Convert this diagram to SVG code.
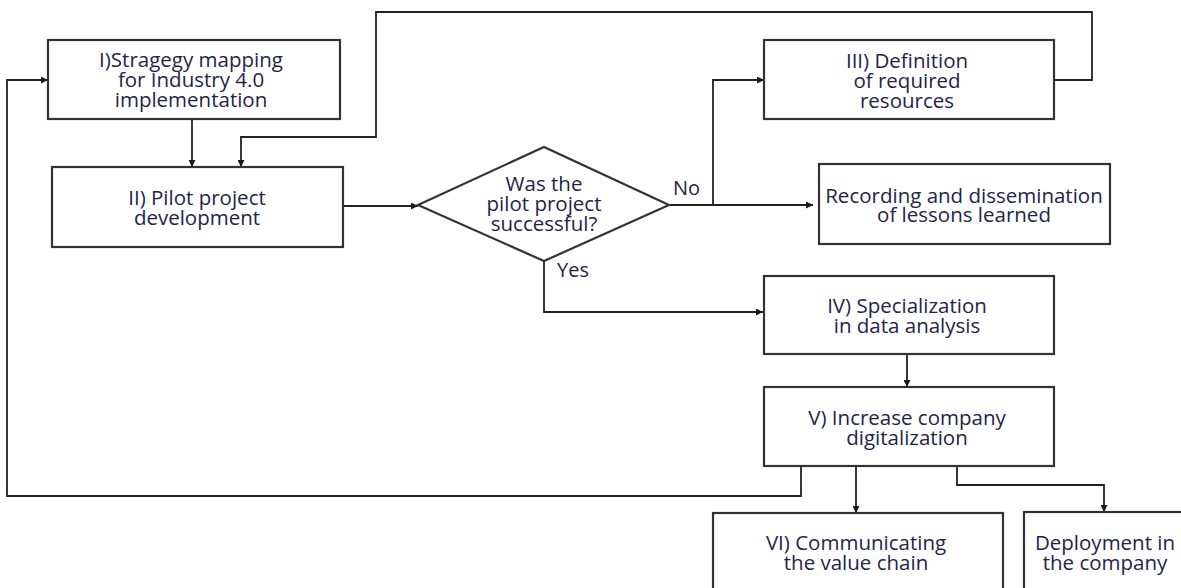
<svg xmlns="http://www.w3.org/2000/svg" width="1181" height="588" viewBox="0 0 1181 588">
<defs>
<marker id="arr" viewBox="0 0 10 10" refX="10" refY="5" markerWidth="9" markerHeight="7" markerUnits="userSpaceOnUse" orient="auto">
<path d="M0,0 L10,5 L0,10 z" fill="#1a1a1a"/>
</marker>
<style>
.box{fill:#fff;stroke:#333;stroke-width:2.2}
.t{font-family:"Open Sans","Noto Sans","DejaVu Sans",sans-serif;font-size:20.5px;fill:#24244a;text-anchor:middle}
.lbl{font-family:"Open Sans","Noto Sans","DejaVu Sans",sans-serif;font-size:20px;fill:#24244a}
.c{fill:none;stroke:#222;stroke-width:1.8}
</style>
</defs>
<rect width="1181" height="588" fill="#fff"/>
<g id="connectors">
<path class="c" d="M192,119 V167" marker-end="url(#arr)"/>
<path class="c" d="M1054,80 H1092 V12 H376 V137 H241 V167" marker-end="url(#arr)"/>
<path class="c" d="M343,206 H418" marker-end="url(#arr)"/>
<path class="c" d="M669,205 H813" marker-end="url(#arr)"/>
<path class="c" d="M713,205 V80 H764" marker-end="url(#arr)"/>
<path class="c" d="M544,261 V312 H763" marker-end="url(#arr)"/>
<path class="c" d="M907,354 V387" marker-end="url(#arr)"/>
<path class="c" d="M801,466 V496 H7 V80 H48" marker-end="url(#arr)"/>
<path class="c" d="M856,466 V513" marker-end="url(#arr)"/>
<path class="c" d="M957,466 V485 H1104 V512" marker-end="url(#arr)"/>
</g>
<g id="n1">
<rect class="box" x="48" y="40" width="292" height="79"/>
<text class="t" x="191" y="67">I)Stragegy mapping</text>
<text class="t" x="191" y="87">for Industry 4.0</text>
<text class="t" x="191" y="107">implementation</text>
</g>
<g id="n2">
<rect class="box" x="52" y="167" width="291" height="80"/>
<text class="t" x="197" y="205">II) Pilot project</text>
<text class="t" x="197" y="225">development</text>
</g>
<g id="decision">
<polygon class="box" points="418,205 544,147 669,205 544,261"/>
<text class="t" x="544" y="191">Was the</text>
<text class="t" x="544" y="211">pilot project</text>
<text class="t" x="544" y="231">successful?</text>
<text class="lbl" x="673" y="195">No</text>
<text class="lbl" x="557" y="277">Yes</text>
</g>
<g id="n3">
<rect class="box" x="764" y="40" width="290" height="79"/>
<text class="t" x="907" y="68">III) Definition</text>
<text class="t" x="907" y="88">of required</text>
<text class="t" x="907" y="108">resources</text>
</g>
<g id="lessons">
<rect class="box" x="819" y="164" width="291" height="80"/>
<text class="t" x="964" y="203">Recording and dissemination</text>
<text class="t" x="964" y="222">of lessons learned</text>
</g>
<g id="n4">
<rect class="box" x="764" y="276" width="290" height="78"/>
<text class="t" x="907" y="313">IV) Specialization</text>
<text class="t" x="907" y="333">in data analysis</text>
</g>
<g id="n5">
<rect class="box" x="764" y="387" width="290" height="79"/>
<text class="t" x="907" y="425">V) Increase company</text>
<text class="t" x="907" y="445">digitalization</text>
</g>
<g id="n6">
<rect class="box" x="713" y="513" width="290" height="90"/>
<text class="t" x="856" y="550">VI) Communicating</text>
<text class="t" x="856" y="570">the value chain</text>
</g>
<g id="deploy">
<rect class="box" x="1024" y="512" width="170" height="90"/>
<text class="t" x="1105" y="550">Deployment in</text>
<text class="t" x="1105" y="570">the company</text>
</g>
</svg>
